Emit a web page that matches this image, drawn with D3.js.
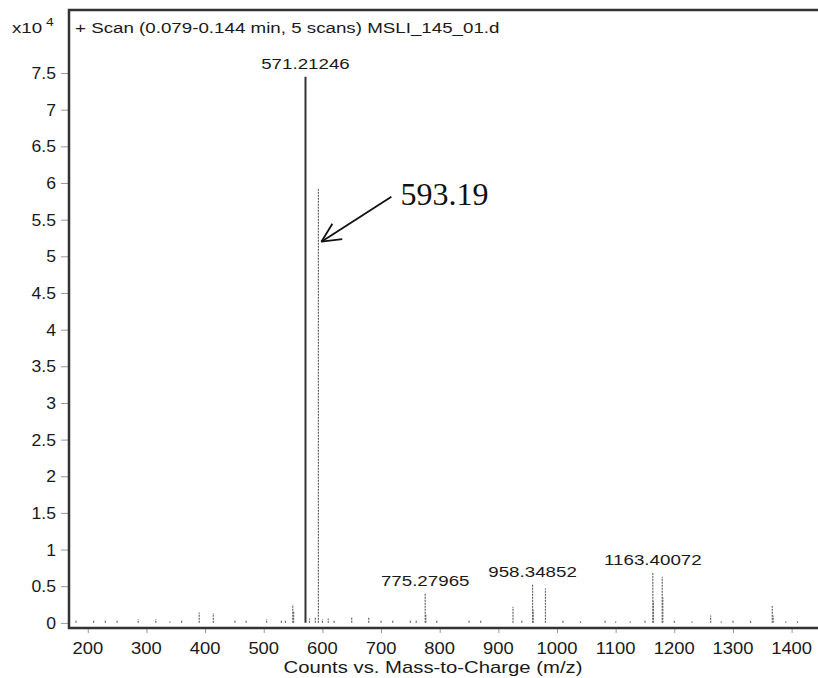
<!DOCTYPE html>
<html><head><meta charset="utf-8">
<script src="https://cdn.jsdelivr.net/npm/d3@7"></script>
<style>body{margin:0;background:#fff;overflow:hidden}svg{display:block}</style>
</head><body>
<script>
// m/z of peaks and intensities (x10^4 counts)
const peakMz  = [571.21, 593.19, 549.5, 551.0, 775.28, 776.3, 958.35, 959.4, 980.33, 925.0,
                 1163.40, 1164.4, 1179.4, 1180.4, 1262.0, 1367.0, 1368.5, 390.0, 414.0,
                 286.0, 316.0, 451.0, 505.0, 650.0, 679.0, 610.0, 588.0, 530.0, 537.0, 720.0,
                 750.0, 795.0, 850.0, 1010.0, 1040.0, 1082.0, 1125.0, 1200.0, 1230.0, 1300.0,
                 1330.0, 1390.0, 1410.0, 180.0, 210.0, 230.0, 250.0, 340.0, 360.0, 470.0,
                 578.0, 600.0, 620.0, 760.0, 940.0, 1100.0, 1150.0, 1280.0, 870.0, 700.0];
const peakInt = [7.45, 5.92, 0.25, 0.15, 0.40, 0.12, 0.52, 0.18, 0.47, 0.22,
                 0.68, 0.30, 0.63, 0.35, 0.10, 0.23, 0.10, 0.14, 0.13,
                 0.05, 0.05, 0.04, 0.05, 0.07, 0.08, 0.06, 0.08, 0.03, 0.03, 0.03,
                 0.04, 0.03, 0.03, 0.03, 0.02, 0.03, 0.02, 0.03, 0.02, 0.03,
                 0.04, 0.02, 0.02, 0.03, 0.04, 0.03, 0.03, 0.02, 0.03, 0.03,
                 0.06, 0.05, 0.04, 0.03, 0.03, 0.02, 0.03, 0.02, 0.03, 0.03];
const labelMz   = [571.21246, 775.27965, 958.34852, 1163.40072];
const labelInt  = [7.45, 0.40, 0.52, 0.68];
const labelText = ["571.21246", "775.27965", "958.34852", "1163.40072"];
const xTicks = [200, 300, 400, 500, 600, 700, 800, 900, 1000, 1100, 1200, 1300, 1400];
const yTicks = [0, 0.5, 1, 1.5, 2, 2.5, 3, 3.5, 4, 4.5, 5, 5.5, 6, 6.5, 7, 7.5];
const titleText = "+ Scan (0.079-0.144 min, 5 scans) MSLI_145_01.d";
const xLabel = "Counts vs. Mass-to-Charge (m/z)";
const annoMz = 593.19, annoText = "593.19", annoInt = 5.2;

const W = 818, H = 678;
const svg = d3.select("body").append("svg").attr("width", W).attr("height", H);
const x = d3.scaleLinear().domain([168, 1445]).range([69, 818]);
const y = d3.scaleLinear().domain([-0.07, 8.36]).range([628, 10]);
const SX = 1.25;
const font = "'Liberation Sans', Arial, sans-serif";

function txt(px, py, s, size, anchor, sx, fam, col) {
  const g = svg.append("g").attr("transform", `translate(${px},${py}) scale(${sx},1)`);
  g.append("text").text(s).attr("font-family", fam || font).attr("font-size", size)
    .attr("text-anchor", anchor).attr("fill", col || "#1a1a1a");
  return g;
}

// axes ticks
const xa = svg.append("g").attr("transform", `translate(0,${628})`)
  .call(d3.axisBottom(x).tickValues(xTicks).tickSize(5).tickFormat(""));
xa.select(".domain").remove();
xa.selectAll("line").attr("stroke", "#999");
const ya = svg.append("g").attr("transform", `translate(69,0)`)
  .call(d3.axisLeft(y).tickValues(yTicks).tickSize(8).tickFormat(""));
ya.select(".domain").remove();
ya.selectAll("line").attr("stroke", "#999");

xTicks.forEach(v => txt(x(v), 654, String(v), 16, "middle", 1.15));
yTicks.forEach(v => txt(56, y(v) + 6, String(v), 16, "end", 1.1));

// peaks
svg.append("g").selectAll("line").data(peakMz).join("line")
  .attr("x1", d => x(d)).attr("x2", d => x(d))
  .attr("y1", y(0)).attr("y2", (d, i) => y(peakInt[i]))
  .attr("stroke", (d, i) => i === 0 ? "#333" : "#666")
  .attr("stroke-width", (d, i) => i === 0 ? 2 : 1.2)
  .attr("stroke-dasharray", (d, i) => i === 0 ? null : "2,1");

// frame (open on the right, as in the scan)
svg.append("path")
  .attr("d", `M${W + 20},${y(8.36)} L69,${y(8.36)} L69,628 L${W + 20},628`)
  .attr("fill", "none").attr("stroke", "#333").attr("stroke-width", 2.5);

// labels
labelMz.forEach((m, i) => txt(x(m), y(labelInt[i]) - 8, labelText[i], 15, "middle", SX));

txt(75, 33, titleText, 15, "start", SX);
txt(12, 33, "x10", 15, "start", SX);
txt(46, 26, "4", 11, "start", SX);
txt(433, 673, xLabel, 16, "middle", 1.27);

// annotation arrow
const tipX = x(annoMz) + 3, tipY = y(annoInt);
const sX = tipX + 70, sY = tipY - 45;
svg.append("line").attr("x1", sX).attr("y1", sY).attr("x2", tipX).attr("y2", tipY)
  .attr("stroke", "#111").attr("stroke-width", 1.8);
const ang = Math.atan2(sY - tipY, sX - tipX);
[0.45, -0.45].forEach(a => {
  svg.append("line").attr("x1", tipX).attr("y1", tipY)
    .attr("x2", tipX + 21 * Math.cos(ang + a)).attr("y2", tipY + 21 * Math.sin(ang + a))
    .attr("stroke", "#111").attr("stroke-width", 1.8);
});
txt(sX + 9, sY + 8, annoText, 32, "start", 1.0, "'Liberation Serif', 'Times New Roman', serif", "#111");
</script>
</body></html>
